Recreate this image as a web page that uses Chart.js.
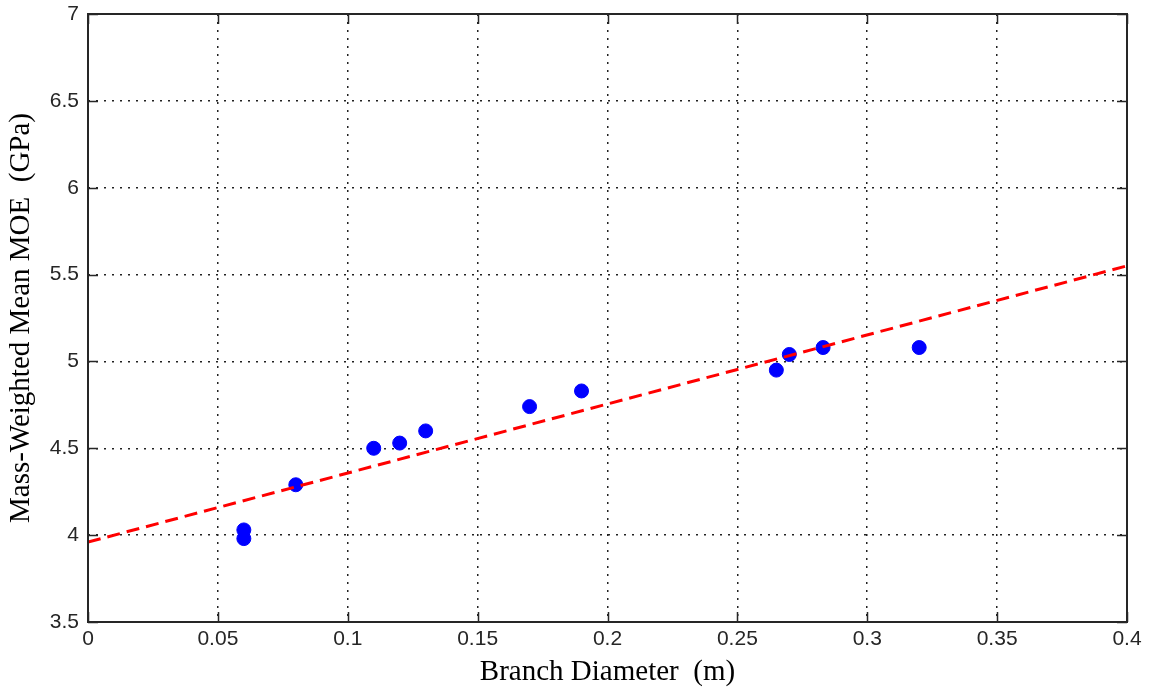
<!DOCTYPE html>
<html>
<head>
<meta charset="utf-8">
<script src="https://cdn.jsdelivr.net/npm/chart.js@4/dist/chart.umd.min.js"></script>
<style>
  html, body { margin: 0; padding: 0; background: #fff; }
  #wrap { width: 1152px; height: 692px; }
</style>
</head>
<body>
<div id="wrap"><canvas id="chart" width="1152" height="692"></canvas></div>
<script>
/* ---- data ---- */
const diameters = [0.06, 0.06, 0.08, 0.11, 0.12, 0.13, 0.17, 0.19, 0.265, 0.27, 0.283, 0.32];
const moeValues = [4.03, 3.98, 4.29, 4.50, 4.53, 4.60, 4.74, 4.83, 4.95, 5.04, 5.08, 5.08];

// fitted trend line end points
const fitX = [0, 0.4];
const fitY = [3.96, 5.55];

const xTicks = [0, 0.05, 0.1, 0.15, 0.2, 0.25, 0.3, 0.35, 0.4];
const yTicks = [3.5, 4, 4.5, 5, 5.5, 6, 6.5, 7];

/* ---- box + inward tick marks (MATLAB style) ---- */
const boxPlugin = {
  id: 'box',
  afterDatasetsDraw(chart) {
    const { ctx, chartArea: a, scales } = chart;
    ctx.save();
    ctx.strokeStyle = '#262626';
    ctx.lineWidth = 1.5;
    ctx.beginPath();
    xTicks.forEach(v => {
      const px = Math.round(scales.x.getPixelForValue(v)) + 0.5;
      ctx.moveTo(px, a.bottom); ctx.lineTo(px, a.bottom - 10);
      ctx.moveTo(px, a.top); ctx.lineTo(px, a.top + 10);
    });
    yTicks.forEach(v => {
      const py = Math.round(scales.y.getPixelForValue(v)) + 0.5;
      ctx.moveTo(a.left, py); ctx.lineTo(a.left + 10, py);
      ctx.moveTo(a.right, py); ctx.lineTo(a.right - 10, py);
    });
    ctx.stroke();
    ctx.lineWidth = 2;
    ctx.strokeRect(a.left, a.top, a.right - a.left, a.bottom - a.top);
    ctx.restore();
  }
};

const tickFont = { family: '"Liberation Sans", Arial, sans-serif', size: 21 };
const titleFont = { family: '"Liberation Serif", "Times New Roman", serif', size: 29 };

new Chart(document.getElementById('chart'), {
  type: 'scatter',
  data: {
    datasets: [
      {
        label: 'Measured',
        data: diameters.map((d, i) => ({ x: d, y: moeValues[i] })),
        backgroundColor: '#0000ff',
        borderColor: '#0000ff',
        pointRadius: 7,
        pointHoverRadius: 7,
        order: 1
      },
      {
        label: 'Fit',
        type: 'line',
        data: fitX.map((d, i) => ({ x: d, y: fitY[i] })),
        borderColor: '#ff0000',
        borderWidth: 3,
        borderDash: [13, 7],
        pointRadius: 0,
        fill: false,
        order: 0
      }
    ]
  },
  options: {
    responsive: false,
    animation: false,
    layout: { padding: { top: 14, right: 25, left: 0, bottom: 0 } },
    plugins: {
      legend: { display: false },
      tooltip: { enabled: false }
    },
    scales: {
      x: {
        type: 'linear',
        min: 0, max: 0.4,
        afterBuildTicks: s => { s.ticks = xTicks.map(v => ({ value: v })); },
        afterFit: s => { s.height = 70; s.paddingLeft = 0; s.paddingRight = 0; },
        grid: { color: '#222', lineWidth: 1.5, drawTicks: false },
        border: { display: false, dash: [2, 6] },
        ticks: { color: '#262626', font: tickFont, padding: 5, maxRotation: 0,
                 callback: v => String(+v.toFixed(2)) },
        title: { display: true, text: 'Branch Diameter  (m)', color: '#000',
                 font: titleFont, padding: { top: 0, bottom: 2 } }
      },
      y: {
        type: 'linear',
        min: 3.5, max: 7,
        afterBuildTicks: s => { s.ticks = yTicks.map(v => ({ value: v })); },
        afterFit: s => { s.width = 88; s.paddingTop = 0; s.paddingBottom = 0; },
        grid: { color: '#222', lineWidth: 1.5, drawTicks: false },
        border: { display: false, dash: [2, 6] },
        ticks: { color: '#262626', font: tickFont, padding: 9,
                 callback: v => String(v) },
        title: { display: true, text: 'Mass-Weighted Mean MOE  (GPa)', color: '#000',
                 font: titleFont, padding: { top: 4, bottom: 0 } }
      }
    }
  },
  plugins: [boxPlugin]
});
</script>
</body>
</html>
